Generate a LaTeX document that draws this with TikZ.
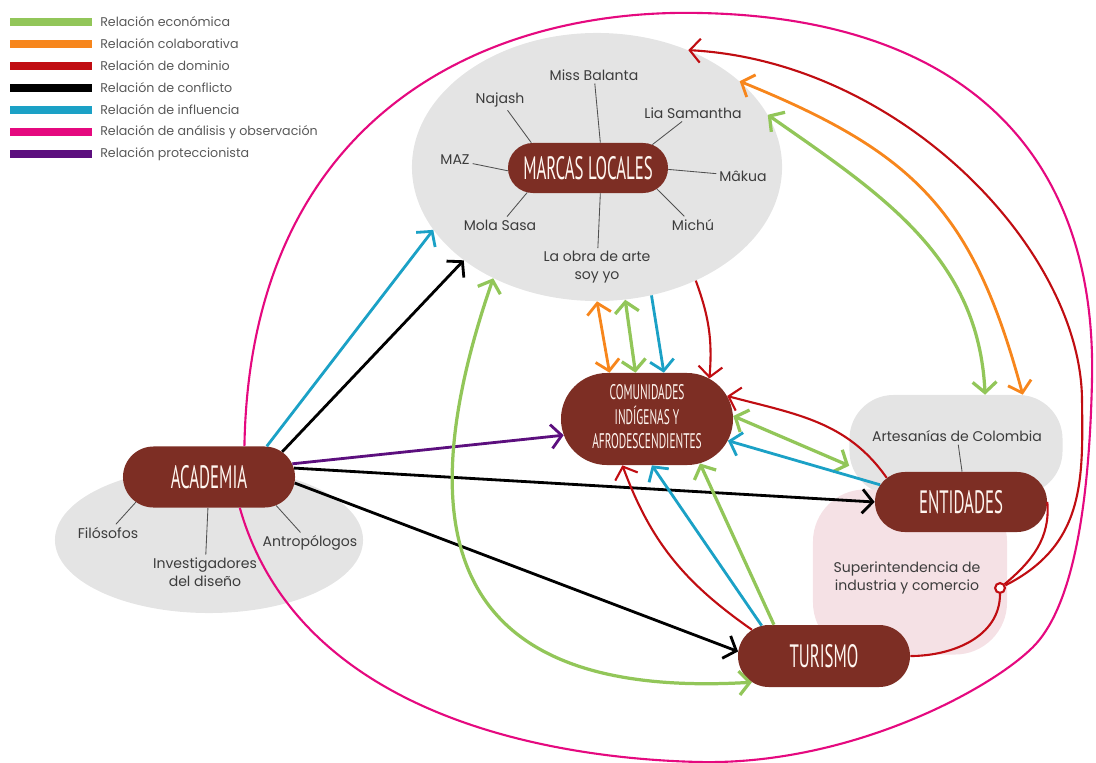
\documentclass[tikz,border=0pt]{standalone}
\usepackage{fontspec}
\setmainfont{Poppins}
\newfontfamily\titlefont{PT Sans}
\usepackage{graphicx}
\usepackage{tikz}
\usetikzlibrary{arrows.meta,bending,positioning,shapes.geometric,shapes.misc}
\definecolor{cEcon}{HTML}{92C659}
\definecolor{cColab}{HTML}{F7861C}
\definecolor{cDom}{HTML}{C00D12}
\definecolor{cConf}{HTML}{000000}
\definecolor{cInfl}{HTML}{1BA1C6}
\definecolor{cAnal}{HTML}{E5097F}
\definecolor{cProt}{HTML}{5C0F7E}
\definecolor{cBrown}{HTML}{7D2E24}
\definecolor{cCream}{HTML}{FFF6F0}
\definecolor{cGrey}{HTML}{E4E4E4}
\definecolor{cPink}{HTML}{F5E1E5}
\definecolor{cText}{HTML}{3C3C3C}
\newcommand{\ttl}[1]{\scalebox{0.52}[1]{\titlefont\fontsize{23}{25}\selectfont #1}}

\tikzset{
  brownnode/.style={rounded rectangle, fill=cBrown, text=cCream, inner sep=0pt,
                    minimum width=4.3cm, minimum height=1.525cm},
  sublabel/.style={text=cText, font=\fontsize{10}{12.5}\selectfont, align=center, inner sep=2pt},
  legend/.style={text=cText!85, font=\fontsize{9}{10}\selectfont, inner sep=0pt},
  spoke/.style={draw=cText!90, line width=0.6pt},
  econ/.style={draw=cEcon, line width=2.3pt},
  colab/.style={draw=cColab, line width=2pt},
  dominio/.style={draw=cDom, line width=1.5pt},
  conflicto/.style={draw=cConf, line width=2pt},
  influencia/.style={draw=cInfl, line width=2pt},
  analisis/.style={draw=cAnal, line width=1.5pt},
  protec/.style={draw=cProt, line width=2pt}
}

\begin{document}
\begin{tikzpicture}[x=0.025cm, y=0.025cm, >={Straight Barb[length=7.5pt,width=17pt]}]
      \useasboundingbox (0,0) rectangle (1096,-762);

      % legend
      \foreach \c/\t [count=\i] in {cEcon/Relación económica, cColab/Relación colaborativa,
          cDom/Relación de dominio, cConf/Relación de conflicto, cInfl/Relación de influencia,
          cAnal/Relación de análisis y observación, cProt/Relación proteccionista}
      {
        \draw[\c, line width=5pt] (10,{-22*\i}) -- (92,{-22*\i});
        \node[legend, anchor=west] (leg\i) at (100,{-22*\i}) {\t};
      }

      % background blobs
      \node[ellipse, fill=cGrey, minimum width=9.25cm, minimum height=6.7cm, inner sep=0pt] (marcasbg) at (597,-167) {};
      \node[ellipse, fill=cGrey, minimum width=7.7cm, minimum height=3.65cm, inner sep=0pt] (acadbg) at (209,-540) {};
      \node[rectangle, rounded corners=1.1cm, fill=cGrey, minimum width=5.325cm, minimum height=2.5cm] (entbg) at (956,-445) {};
      \node[rectangle, rounded corners=1.3cm, fill=cPink, minimum width=4.85cm, minimum height=4.125cm] (sicbg) at (910,-572) {};

      \begin{scope}[every node/.style={brownnode}]
          \node[minimum width=4cm, minimum height=1.25cm] (marcas) at (588,-168) {\ttl{MARCAS LOCALES}};
          \node[minimum height=2.3cm] (comunidades) at (647,-419)
              {\scalebox{0.54}[1]{\titlefont\fontsize{15}{17}\selectfont
               \begin{tabular}{@{}c@{}}COMUNIDADES\\INDÍGENAS Y\\AFRODESCENDIENTES\end{tabular}}};
          \node (academia) at (209,-477) {\ttl{ACADEMIA}};
          \node[minimum height=1.5cm] (entidades) at (961,-502) {\ttl{ENTIDADES}};
          \node[minimum height=1.55cm] (turismo) at (824,-656) {\ttl{TURISMO}};
      \end{scope}

      \begin{scope}[every node/.style={sublabel}]
          \node (missbalanta) at (594,-75) {Miss Balanta};
          \node (najash) at (500,-100) {Najash};
          \node (liasamantha) at (693,-113) {Lia Samantha};
          \node (maz) at (455,-160) {MAZ};
          \node (makua) at (743,-176) {Mâkua};
          \node (molasasa) at (500,-225) {Mola Sasa};
          \node (michu) at (693,-225) {Michú};
          \node (obra) at (597,-267) {La obra de arte\\soy yo};
          \node (filosofos) at (108,-533) {Filósofos};
          \node (investigadores) at (205,-572) {Investigadores\\del diseño};
          \node (antropologos) at (310,-543) {Antropólogos};
          \node (artesanias) at (957,-436) {Artesanías de Colombia};
          \node (sic) at (907,-578) {Superintendencia de\\industria y comercio};
      \end{scope}

      \draw[spoke] (marcas.64) -- (missbalanta);
      \draw[spoke] (marcas.156) -- (najash);
      \draw[spoke] (marcas.20) -- (liasamantha);
      \draw[spoke] (marcas.182) -- (maz);
      \draw[spoke] (marcas.-1) -- (makua);
      \draw[spoke] (marcas.202) -- (molasasa);
      \draw[spoke] (marcas.-17) -- (michu);
      \draw[spoke] (marcas.-64) -- (obra);
      \draw[spoke] (academia.199) -- (filosofos);
      \draw[spoke] (academia.-92) -- (investigadores);
      \draw[spoke] (academia.-23) -- (antropologos);
      \draw[spoke] (entidades.88) -- (artesanias);

      \draw[analisis] (academia.41) .. controls (250,-120) and (480,-8) .. (700,-13)
          .. controls (960,-18) and (1097,-150) .. (1092,-380)
          .. controls (1089,-518) and (1070,-610) .. (1033,-647)
          .. controls (990,-690) and (850,-765) .. (700,-762)
          .. controls (560,-759) and (300,-720) .. (academia.-45);

      \node[circle, draw=cDom, fill=white, line width=1.5pt, minimum size=7pt, inner sep=0pt] (junction) at (1000,-588) {};

      \draw [->, influencia] (academia.28) -- (marcasbg.201);
      \draw [->, conflicto] (academia.19) -- (marcasbg.215);
      \draw [->, protec] (academia.9) -- (comunidades.191);
      \draw [->, conflicto] (academia.6) -- (entidades.west);
      \draw [->, conflicto] (academia.-4) -- (turismo.177);
      \draw [<->, econ] (marcasbg.227) .. controls (395,-560) and (470,-700) .. (turismo.200);

      \draw [<->, colab] (marcasbg.270) -- (comunidades.129);
      \draw [<->, econ] (marcasbg.282) -- (comunidades.104);
      \draw [->, influencia] (marcasbg.293) -- (comunidades.70);
      \draw [->, dominio] (marcasbg.311) to[out=-70, in=85] (comunidades.33);

      \draw [<->, econ] (marcasbg.17) to[out=-35, in=92] (entbg.60);
      \draw [<->, colab] (marcasbg.31) to[out=-22, in=105, looseness=1.15] (entbg.37);
      \draw [->, dominio] (junction) .. controls (1085,-545) and (1083,-480) .. (1082,-400)
          .. controls (1081,-250) and (900,-60) .. (marcasbg.52);

      \draw [->, dominio] (entidades.162) to[out=125, in=-15] (comunidades.16);
      \draw [<->, econ] (comunidades.2) -- (entbg.191);
      \draw [->, influencia] (entidades.168) -- (comunidades.-15);

      \draw [->, dominio] (turismo.160) to[out=145, in=-70] (comunidades.242);
      \draw [->, influencia] (turismo.154) -- (comunidades.276);
      \draw [->, econ] (turismo.148) -- (comunidades.-40);

      \draw [dominio] (turismo.east) to[out=0, in=-90] (junction);
      \draw [dominio] (entidades.east) to[out=-85, in=40] (junction);
\end{tikzpicture}
\end{document}
